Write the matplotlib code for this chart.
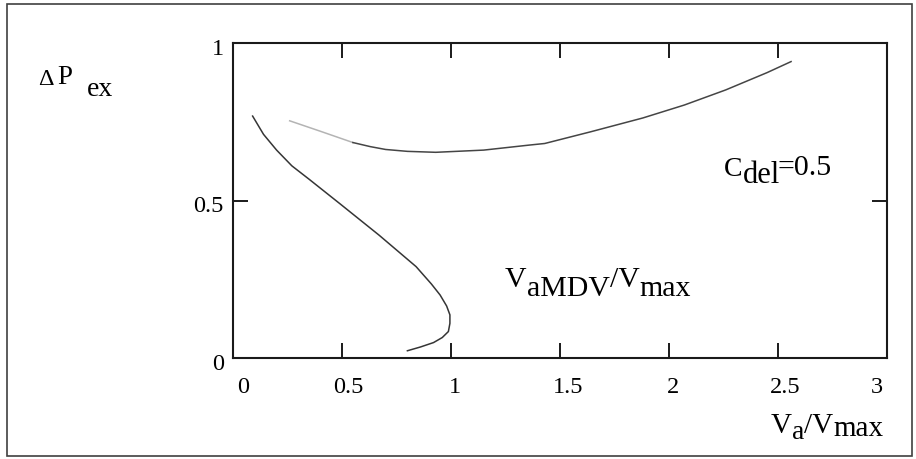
import matplotlib
matplotlib.use('Agg')
import matplotlib.pyplot as plt
from matplotlib.patches import Rectangle
from matplotlib.transforms import ScaledTranslation

plt.rcParams['font.family'] = ['Liberation Serif', 'DejaVu Serif']

# data
upper_x = [0.26, 0.40, 0.55, 0.63, 0.70, 0.80, 0.93, 1.15, 1.36, 1.43, 1.64, 1.88, 2.07, 2.26, 2.45, 2.56]
upper_y = [0.753, 0.720, 0.684, 0.671, 0.662, 0.656, 0.653, 0.660, 0.676, 0.681, 0.718, 0.762, 0.803, 0.851, 0.906, 0.941]

lower_x = [0.09, 0.14, 0.20, 0.27, 0.35, 0.49, 0.67, 0.84, 0.91, 0.95, 0.98, 0.995, 0.995, 0.988, 0.96, 0.92, 0.86, 0.80]
lower_y = [0.768, 0.710, 0.660, 0.610, 0.567, 0.490, 0.390, 0.290, 0.235, 0.200, 0.165, 0.137, 0.110, 0.084, 0.065, 0.049, 0.035, 0.023]

x_ticks = [0, 0.5, 1, 1.5, 2, 2.5, 3]
x_tick_labels = ['0', '0.5', '1', '1.5', '2', '2.5', '3']
x_label_shift = [10, 6, 4, 8, 4, 7, -10]   # px, mathcad puts labels a bit off-centre
y_ticks = [0, 0.5, 1]
y_tick_labels = ['0', '0.5', '1']

W, H = 916, 459
fig = plt.figure(figsize=(W / 100, H / 100), dpi=100)
ax = fig.add_axes([233 / W, 1 - 358 / H, (887 - 233) / W, (358 - 43) / H])


def shift(dx, dy):
    # offset in pixels (dpi 100)
    return ScaledTranslation(dx / 100, dy / 100, fig.dpi_scale_trans)


def px(x, y):
    return x / W, 1 - y / H


def chain(x, y, parts):
    # parts: (text, size, dx px, dy px down relative to previous piece)
    prev = fig.text(*px(x, y), parts[0][0], fontsize=parts[0][1], va='baseline', ha='left')
    for s, size, dx, dy in parts[1:]:
        prev = ax.annotate(s, xy=(1, 0), xycoords=prev, xytext=(dx * 0.72, -dy * 0.72),
                           textcoords='offset points', fontsize=size, va='bottom', ha='left')


# curves
ax.plot(upper_x[:3], upper_y[:3], color='#b4b4b4', lw=1.1)
ax.plot(upper_x[2:], upper_y[2:], color='#454545', lw=1.1)
ax.plot(lower_x, lower_y, color='#353535', lw=1.1)

ax.set_xlim(0, 3)
ax.set_ylim(0, 1)
ax.set_xticks(x_ticks)
ax.set_yticks(y_ticks)
ax.tick_params(direction='in', length=11, width=1.4, top=True, right=True,
               labelbottom=False, labelleft=False, color='#1a1a1a')
for sp in ax.spines.values():
    sp.set_linewidth(1.5)
    sp.set_color('#1a1a1a')

# tick labels drawn by hand so they can sit where mathcad put them
for v, s, dx in zip(x_ticks, x_tick_labels, x_label_shift):
    ax.text(v, 0, s, transform=ax.get_xaxis_transform() + shift(dx, -35),
            ha='center', va='baseline', fontsize=17.5)
for v, s in zip(y_ticks, y_tick_labels):
    ax.text(0, v, s, transform=ax.get_yaxis_transform() + shift(-9, -12),
            ha='right', va='baseline', fontsize=17.5)

# labels
chain(38, 85, [('Δ', 17.5, 0, 0), ('P', 19.5, 4, 0), ('ex', 20, 14, 12)])
chain(771, 433, [('V', 21, 0, 0), ('a', 20, 0, 6), ('/V', 21, 0, -6), ('max', 21, 0, 3)])
chain(724, 176, [('C', 20, 0, 0), ('del', 22, 0, 8), ('=0.5', 21.5, -2, -9)])
chain(505, 287, [('V', 21.5, 0, 0), ('aMDV', 21.5, 0, 9), ('/V', 21.5, 0, -9), ('max', 21.5, 0, 9)])

# outer frame of the scanned figure
fig.add_artist(Rectangle((7 / W, 1 - 456 / H), (912 - 7) / W, (456 - 4) / H,
                         transform=fig.transFigure, fill=False, lw=1.2, ec='#404040'))

fig.savefig('out.png', dpi=100)
